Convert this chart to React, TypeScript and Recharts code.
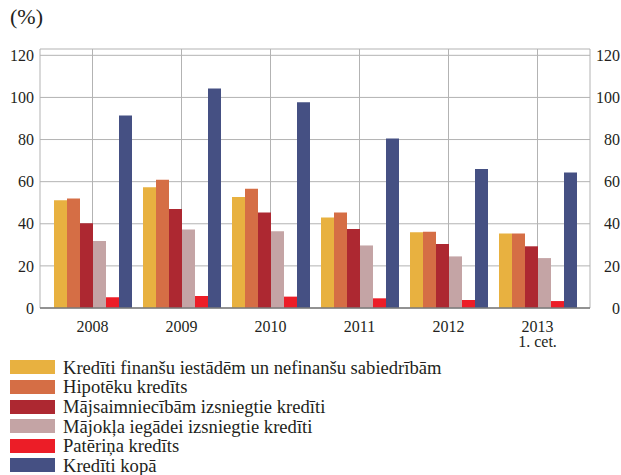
import { BarChart, Bar, XAxis, YAxis, CartesianGrid } from 'recharts';

const years = ['2008', '2009', '2010', '2011', '2012', '2013\n1. cet.'];

const finansuIestadem = [51.2, 57.4, 52.7, 43.0, 36.0, 35.4];
const hipoteku = [52.0, 60.9, 56.6, 45.4, 36.2, 35.4];
const majsaimniecibam = [40.2, 47.0, 45.4, 37.5, 30.4, 29.3];
const majoklaIegadei = [31.8, 37.3, 36.5, 29.7, 24.5, 23.7];
const paterina = [5.1, 5.7, 5.4, 4.6, 3.8, 3.3];
const kopa = [91.4, 104.2, 97.7, 80.5, 66.0, 64.4];

const yTicks = [0, 20, 40, 60, 80, 100, 120];

const series = [
    { key: 'fin', name: 'Kredīti finanšu iestādēm un nefinanšu sabiedrībām', color: '#E8B140', values: finansuIestadem },
    { key: 'hip', name: 'Hipotēku kredīts', color: '#D56E45', values: hipoteku },
    { key: 'maj', name: 'Mājsaimniecībām izsniegtie kredīti', color: '#AD2831', values: majsaimniecibam },
    { key: 'mak', name: 'Mājokļa iegādei izsniegtie kredīti', color: '#C4A4A5', values: majoklaIegadei },
    { key: 'pat', name: 'Patēriņa kredīts', color: '#EC1D27', values: paterina },
    { key: 'kop', name: 'Kredīti kopā', color: '#455083', values: kopa },
];

const data = years.map((year, i) => {
    const row: Record<string, string | number> = { year };
    series.forEach((s) => {
        row[s.key] = s.values[i];
    });
    return row;
});

const font = '"Liberation Serif", "Times New Roman", serif';
const textColor = '#231f20';

const YearTick = (props: any) => {
    const { x, y, payload } = props;
    const lines = String(payload.value).split('\n');
    return (
        <text x={x} y={y + 24} textAnchor="middle" fontFamily={font} fontSize={16} fill={textColor}>
            {lines.map((line, i) => (
                <tspan key={i} x={x} dy={i === 0 ? 0 : 15}>
                    {line}
                </tspan>
            ))}
        </text>
    );
};

export default function App() {
    return (
        <div style={{ position: 'absolute', left: 0, top: 0, width: 621, height: 475, background: '#fff', overflow: 'hidden' }}>
            <div
                style={{
                    position: 'absolute',
                    left: 10,
                    top: 4,
                    fontFamily: font,
                    fontSize: 22,
                    color: textColor,
                }}
            >
                (%)
            </div>
            <BarChart
                width={621}
                height={360}
                data={data}
                margin={{ top: 49, right: 0, bottom: 0, left: 0 }}
                barCategoryGap={6}
                barGap={0}
            >
                <CartesianGrid yAxisId="left" stroke="#b3b3b3" strokeWidth={1} />
                <XAxis
                    dataKey="year"
                    height={52}
                    padding={{ left: 8, right: 8 }}
                    tickSize={0}
                    tickMargin={0}
                    interval={0}
                    tick={<YearTick />}
                    axisLine={{ stroke: '#7a7a7a', strokeWidth: 1.5 }}
                />
                <YAxis
                    yAxisId="left"
                    width={40}
                    domain={[0, 123]}
                    ticks={yTicks}
                    tickSize={0}
                    tickMargin={6}
                    axisLine={false}
                    tick={{ fontFamily: font, fontSize: 16, fill: textColor }}
                />
                <YAxis
                    yAxisId="right"
                    orientation="right"
                    width={31}
                    domain={[0, 123]}
                    ticks={yTicks}
                    tickSize={0}
                    tickMargin={30}
                    axisLine={false}
                    tick={{ fontFamily: font, fontSize: 16, fill: textColor, textAnchor: 'end' }}
                />
                {series.map((s) => (
                    <Bar
                        key={s.key}
                        yAxisId={s.key === 'kop' ? 'right' : 'left'}
                        dataKey={s.key}
                        name={s.name}
                        fill={s.color}
                        isAnimationActive={false}
                    />
                ))}
            </BarChart>
            <div style={{ position: 'absolute', left: 10, top: 357.5 }}>
                {series.map((s) => (
                    <div
                        key={s.key}
                        style={{ display: 'flex', alignItems: 'center', height: 19.64 }}
                    >
                        <span style={{ width: 45, height: 14, background: s.color, marginRight: 8, flexShrink: 0 }} />
                        <span style={{ fontFamily: font, fontSize: 18.6, color: textColor, lineHeight: '19px', whiteSpace: 'nowrap' }}>
                            {s.name}
                        </span>
                    </div>
                ))}
            </div>
        </div>
    );
}
